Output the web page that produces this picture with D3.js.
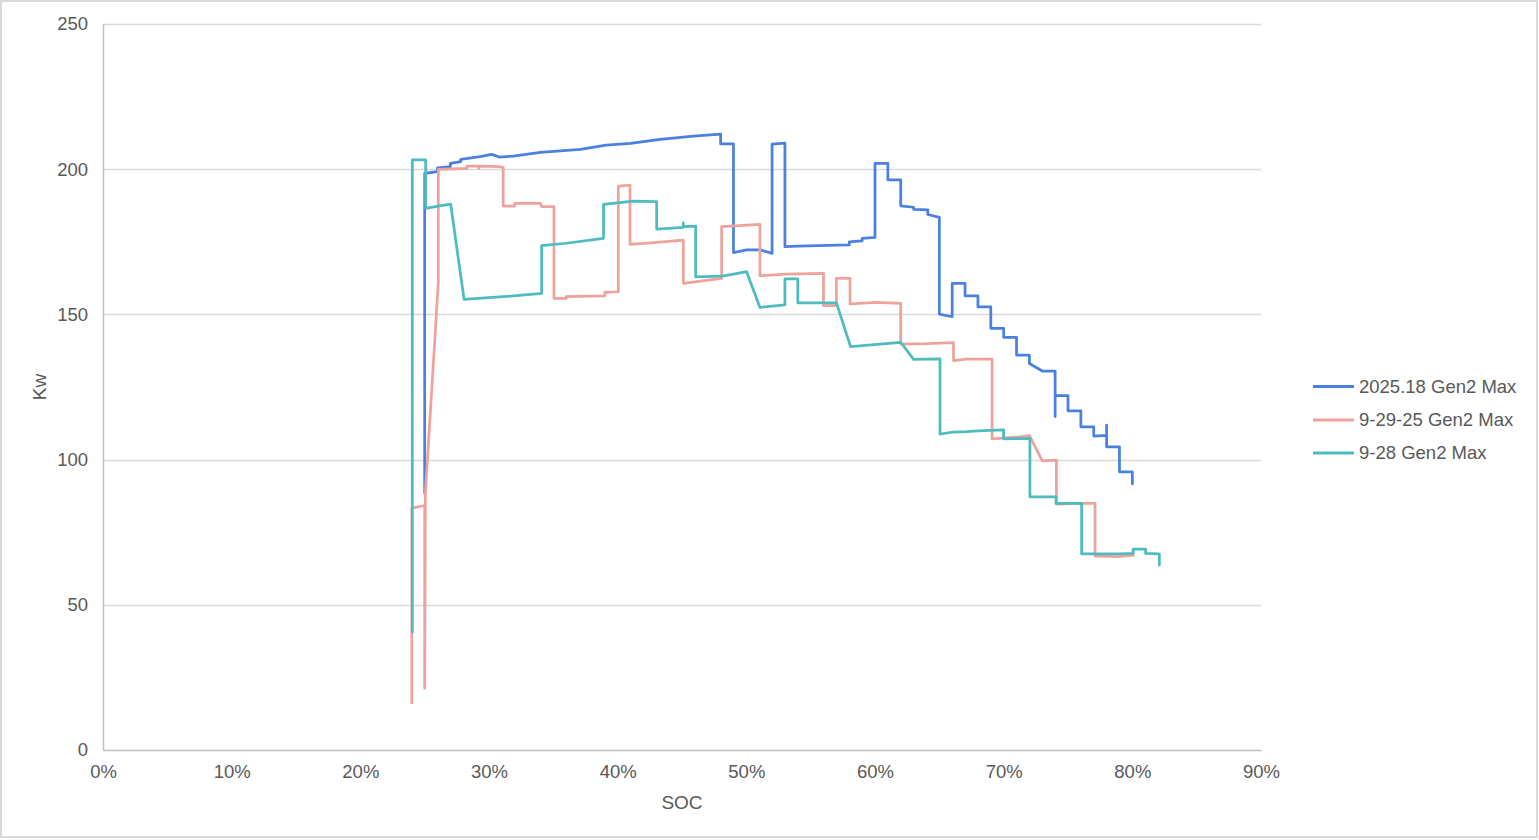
<!DOCTYPE html>
<html>
<head>
<meta charset="utf-8">
<script src="https://cdn.jsdelivr.net/npm/d3@7"></script>
<style>
  html, body { margin: 0; padding: 0; background: #fff; }
  svg { display: block; }
</style>
</head>
<body>
<svg id="chart" width="1539" height="840"></svg>
<script>
// ---- Data (SOC in %, power in kW) ----
const seriesNames = ["2025.18 Gen2 Max", "9-29-25 Gen2 Max", "9-28 Gen2 Max"];
const seriesColors = ["#4a80e0", "#eea29b", "#4dbcbf"];

const blueSOC = [25.0,25.0,26.0,26.0,27.0,27.0,27.8,27.8,29.3,30.2,30.8,31.9,34.0,37.1,39.1,41.0,43.3,45.9,48.0,48.0,49.0,49.0,50.0,51.1,52.0,52.0,53.0,53.0,54.0,58.0,58.0,59.0,59.0,60.0,60.0,61.0,61.0,62.0,62.0,63.0,63.0,64.1,64.1,65.0,65.0,66.0,66.0,67.0,67.0,68.0,68.0,69.0,69.0,70.0,70.0,71.0,71.0,72.0,72.0,73.0,74.0,74.0,74.0,75.0,75.0,76.0,76.0,77.0,77.0,78.0,78.0,78.0,79.0,79.0,80.0,80.0];
const blueKW  = [88.5,198.6,199.2,200.5,200.9,202.0,202.6,203.4,204.3,205.1,204.2,204.5,205.8,206.8,208.3,208.9,210.3,211.4,212.1,208.7,208.7,171.3,172.2,172.2,171.0,208.6,209.0,173.3,173.5,173.9,175.0,175.3,176.2,176.5,202.0,202.0,196.3,196.3,187.4,186.9,186.2,186.0,184.4,183.4,150.1,149.2,160.7,160.7,156.4,156.4,152.6,152.6,145.2,145.2,142.1,142.1,136.0,136.0,133.1,130.5,130.5,114.8,122.0,122.0,116.8,116.8,111.3,111.3,108.1,108.3,111.9,104.4,104.4,95.8,95.8,91.6];

const redSOC = [24.0,24.0,25.0,25.0,25.05,26.06,26.06,28.3,28.3,29.2,29.2,29.3,30.8,31.1,31.1,32.0,32.0,34.0,34.1,35.05,35.05,36.0,36.0,39.0,39.0,40.05,40.05,40.96,40.96,42.8,45.1,45.1,48.08,48.08,51.06,51.06,53.1,56.0,56.0,57.0,57.0,58.06,58.06,60.1,62.0,62.0,64.0,66.1,66.1,67.1,69.1,69.1,71.0,72.0,73.0,74.1,74.1,76.06,77.1,77.1,79.0,80.08];
const redKW  = [16.2,83.3,84.2,21.3,88.0,161.0,199.9,200.3,201.1,201.1,200.3,201.1,200.9,200.6,187.3,187.3,188.2,188.2,187.1,187.1,155.5,155.5,156.1,156.4,157.6,157.8,194.2,194.5,174.1,174.7,175.6,160.7,162.4,180.2,181.0,163.3,163.9,164.1,153.0,153.0,162.4,162.4,153.6,154.1,153.8,139.8,139.9,140.3,134.1,134.6,134.6,107.1,107.7,108.3,99.6,99.8,84.7,84.9,84.9,66.8,66.6,67.1];

const tealSOC = [24.04,24.04,25.08,25.08,26.06,27.02,28.06,31.1,34.09,34.09,36.0,38.9,38.9,41.2,43.03,43.03,45.1,45.1,45.1,46.06,46.06,48.08,49.0,50.02,51.06,53.0,53.0,54.0,54.0,57.0,58.1,62.0,63.0,65.05,65.05,66.1,67.1,68.0,70.0,70.0,72.04,72.04,74.07,74.07,76.06,76.06,79.0,80.07,80.07,81.03,81.03,82.1,82.1];
const tealKW  = [40.6,203.2,203.2,186.5,187.3,188.0,155.2,156.1,157.2,173.7,174.5,176.2,187.9,189.0,188.8,179.4,180.0,181.5,180.2,180.4,162.9,163.2,163.9,164.7,152.4,153.3,162.2,162.2,154.0,154.0,138.9,140.4,134.5,134.7,108.8,109.5,109.6,109.9,110.2,107.1,107.3,87.2,87.2,84.9,84.9,67.5,67.5,67.7,69.2,69.2,67.7,67.5,63.7];

const xTicks = [0,10,20,30,40,50,60,70,80,90];
const yTicks = [0,50,100,150,200,250];
const xTitle = "SOC";
const yTitle = "Kw";

// ---- Chart ----
const FONT = "'Liberation Sans', Arial, sans-serif";
const TXT = "#595959";
const svg = d3.select("#chart");

svg.append("rect").attr("x",1).attr("y",1).attr("width",1536).attr("height",836)
  .attr("fill","#fff").attr("stroke","#d9d9d9").attr("stroke-width",2);

const x = d3.scaleLinear().domain([0,90]).range([103,1261]);
const y = d3.scaleLinear().domain([0,250]).range([750,24]);

// gridlines
svg.append("g").selectAll("line").data(yTicks.filter(d=>d>0)).join("line")
  .attr("x1",x(0)).attr("x2",x(90))
  .attr("y1",d=>Math.round(y(d))+0.5).attr("y2",d=>Math.round(y(d))+0.5)
  .attr("stroke","#d9d9d9").attr("stroke-width",1.3);

// axes
const gx = svg.append("g").attr("transform","translate(0,750)")
  .call(d3.axisBottom(x).tickValues(xTicks).tickFormat(d=>d+"%").tickSize(0).tickPadding(15));
const gy = svg.append("g").attr("transform","translate(103,0)")
  .call(d3.axisLeft(y).tickValues(yTicks).tickSize(0).tickPadding(15));
[gx,gy].forEach(g=>{
  g.select(".domain").attr("stroke","#bfbfbf").attr("stroke-width",1.5);
  g.selectAll("text").attr("fill",TXT).style("font-family",FONT).style("font-size","18.5px");
});

// series
const line = d3.line().x(d=>x(d[0])).y(d=>y(d[1]));
const seriesData = [
  d3.zip(blueSOC, blueKW),
  d3.zip(redSOC, redKW),
  d3.zip(tealSOC, tealKW)
];
svg.append("g").selectAll("path").data(seriesData).join("path")
  .attr("d", line)
  .attr("fill","none")
  .attr("stroke",(d,i)=>seriesColors[i])
  .attr("stroke-width",2.75)
  .attr("stroke-linejoin","round")
  .attr("stroke-linecap","round");

// axis titles
svg.append("text").attr("x",682).attr("y",809).attr("text-anchor","middle")
  .attr("fill",TXT).style("font-family",FONT).style("font-size","19px").text(xTitle);
svg.append("text").attr("transform","translate(46,387) rotate(-90)").attr("text-anchor","middle")
  .attr("fill",TXT).style("font-family",FONT).style("font-size","19px").text(yTitle);

// legend
const legendY = [386.5, 420, 453];
const lg = svg.append("g");
seriesNames.forEach((n,i)=>{
  lg.append("line").attr("x1",1313).attr("x2",1354).attr("y1",legendY[i]).attr("y2",legendY[i])
    .attr("stroke",seriesColors[i]).attr("stroke-width",3);
  lg.append("text").attr("x",1359).attr("y",legendY[i]).attr("dy","0.35em")
    .attr("fill",TXT).style("font-family",FONT).style("font-size","18.5px").text(n);
});
</script>
</body>
</html>
